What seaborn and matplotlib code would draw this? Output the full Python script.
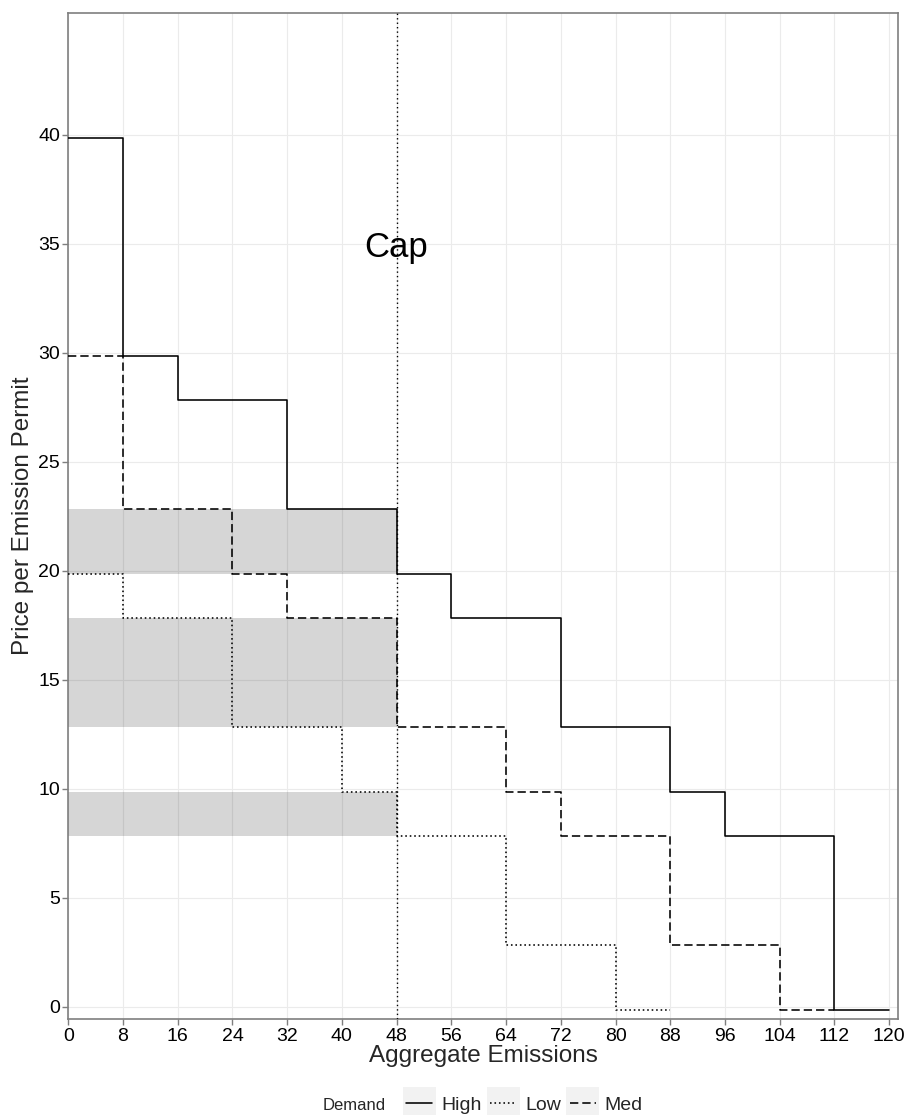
import numpy as np
import pandas as pd
import seaborn as sns
import matplotlib
matplotlib.use("Agg")
import matplotlib.pyplot as plt
from matplotlib.lines import Line2D
from matplotlib.patches import Rectangle

# Step demand schedules: emission level where each price tier starts
high_x = [0, 8, 16, 32, 48, 56, 72, 88, 96, 112, 120]
high_price = [40, 30, 28, 23, 20, 18, 13, 10, 8, 0, 0]
med_x = [0, 8, 24, 32, 48, 64, 72, 88, 104, 112]
med_price = [30, 23, 20, 18, 13, 10, 8, 3, 0, 0]
low_x = [0, 8, 24, 40, 48, 64, 80, 88]
low_price = [20, 18, 13, 10, 8, 3, 0, 0]

demand_levels = ["High", "Low", "Med"]

# Permit cap and the price bands shaded up to the cap
cap = 48
band_low = [20, 13, 8]
band_high = [23, 18, 10]

x_ticks = list(range(0, 121, 8))
y_ticks = list(range(0, 41, 5))

# steps are drawn slightly below the integer price so they sit off the grid
nudge = -0.15

df = pd.concat([
    pd.DataFrame({"x": high_x, "price": high_price, "Demand": "High"}),
    pd.DataFrame({"x": low_x, "price": low_price, "Demand": "Low"}),
    pd.DataFrame({"x": med_x, "price": med_price, "Demand": "Med"}),
], ignore_index=True)
df["y"] = df["price"] + nudge

sns.set_theme(style="ticks")
plt.rcParams["font.family"] = ["Liberation Sans", "DejaVu Sans"]

W, H = 907, 1115
fig = plt.figure(figsize=(W / 100, H / 100), dpi=100)
left, right, top, bottom = 68.3, 898.0, 12.7, 1019.3
ax = fig.add_axes([left / W, 1 - bottom / H, (right - left) / W, (bottom - top) / H])

dash_map = {"High": "", "Low": (1.0, 1.8), "Med": (5.2, 2.5)}
sns.lineplot(data=df, x="x", y="y", style="Demand", style_order=demand_levels,
             dashes=dash_map, color="black", estimator=None, sort=False,
             drawstyle="steps-post", linewidth=1.15, ax=ax, legend=False, zorder=3)

for lo, hi in zip(band_low, band_high):
    ax.fill_between([0, cap], lo + nudge, hi + nudge, color="black", alpha=0.16,
                    linewidth=0, zorder=2)

ax.axvline(cap, color="black", linestyle=(0, (1.0, 2.2)), linewidth=1.0, zorder=3)
ax.text(cap, 34.4, "Cap", ha="center", va="baseline", fontsize=25, color="black", zorder=4)

ax.set_xlim(0, 121.3)
ax.set_ylim(-0.58, 45.6)
ax.set_xticks(x_ticks)
ax.set_yticks(y_ticks)
ax.tick_params(axis="both", labelsize=14, length=4, width=1.0, color="#7f7f7f",
               labelcolor="black", pad=2)
ax.grid(True, color="#ebebeb", linewidth=0.8)
ax.set_axisbelow(True)
for s in ax.spines.values():
    s.set_color("#7f7f7f")
    s.set_linewidth(1.2)
    s.set_visible(True)

ax.set_xlabel("Aggregate Emissions", fontsize=17.5, labelpad=0)
ax.set_ylabel("Price per Emission Permit", fontsize=17.5, labelpad=3)

# legend along the bottom
handles = [Line2D([], [], color="black", linewidth=1.15,
                  linestyle="-" if dash_map[k] == "" else (0, dash_map[k]))
           for k in demand_levels]
leg_y = 1 - 1105 / H
leg = fig.legend(handles, demand_levels, loc="center left",
                 bbox_to_anchor=(406 / W, leg_y), ncol=3, frameon=False,
                 fontsize=14, handlelength=1.35, handletextpad=0.45,
                 columnspacing=0.45, borderpad=0, borderaxespad=0)
fig.text(323 / W, leg_y, "Demand", fontsize=12, ha="left", va="center")

fig.canvas.draw()
renderer = fig.canvas.get_renderer()
for ln in leg.get_lines():
    bb = ln.get_window_extent(renderer)
    cx, cy = (bb.x0 + bb.x1) / 2, (bb.y0 + bb.y1) / 2
    kw, kh = 33, 33
    fig.add_artist(Rectangle(((cx - kw / 2) / W, (cy - kh / 2) / H), kw / W, kh / H,
                             transform=fig.transFigure, facecolor="#f2f2f2",
                             edgecolor="none", zorder=0.5))

fig.savefig("out.png", dpi=100)
